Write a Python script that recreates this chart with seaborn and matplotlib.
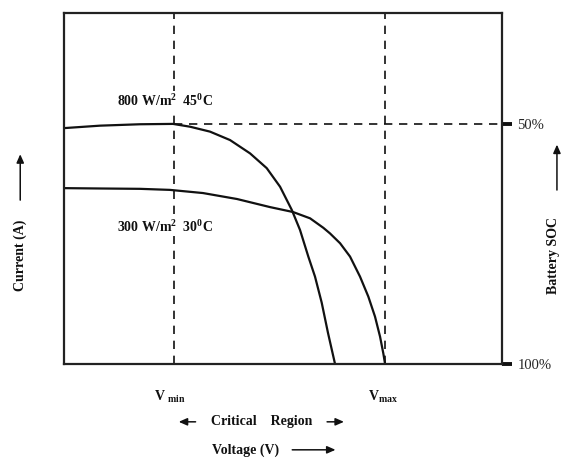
import numpy as np
import pandas as pd
import matplotlib
matplotlib.use("Agg")
import matplotlib.pyplot as plt
from matplotlib.patches import FancyArrowPatch
import seaborn as sns

# I-V curves (voltage in V, current in A, arbitrary scale)
v_800 = [0, 3.29, 6.94, 9.95, 11.51, 13.33, 15.16, 16.99, 18.51, 19.73, 20.80,
         21.55, 22.31, 22.92, 23.53, 24.11, 24.75]
i_800 = [6.72, 6.79, 6.83, 6.84, 6.76, 6.62, 6.38, 6.00, 5.58, 5.05, 4.39,
         3.82, 3.06, 2.49, 1.75, 0.88, 0.0]
v_300 = [0, 3.29, 6.94, 9.68, 12.69, 15.80, 18.81, 20.91, 22.47, 23.68, 24.29,
         25.21, 26.12, 27.03, 27.79, 28.40, 28.86, 29.16, 29.32]
i_300 = [5.01, 5.00, 4.99, 4.96, 4.87, 4.70, 4.47, 4.33, 4.15, 3.88, 3.72,
         3.44, 3.06, 2.49, 1.92, 1.35, 0.78, 0.30, 0.0]

v_min = 10.0
v_max = 29.3
soc_levels = [6.84, 0.0]
soc_labels = ["50%", "100%"]
curve_labels = ["800 W/m$^2$  45$^0$C", "300 W/m$^2$  30$^0$C"]

df = pd.concat([
    pd.DataFrame({"V": v_800, "I": i_800, "case": "800"}),
    pd.DataFrame({"V": v_300, "I": i_300, "case": "300"}),
])

sns.set_theme(style="white")
plt.rcParams["font.family"] = ["Liberation Serif", "DejaVu Sans"]
plt.rcParams["mathtext.fontset"] = "custom"
plt.rcParams["mathtext.rm"] = "Liberation Serif:bold"
plt.rcParams["mathtext.it"] = "Liberation Serif:bold"
plt.rcParams["mathtext.bf"] = "Liberation Serif:bold"

fig = plt.figure(figsize=(5.62, 4.59), dpi=100)
ax = fig.add_axes([0.1139, 0.207, 0.7794, 0.7647])

sns.lineplot(data=df, x="V", y="I", hue="case", units="case", estimator=None,
             sort=False, palette=["#111111", "#111111"], linewidth=1.6,
             legend=False, ax=ax)
for ln in ax.lines:
    ln.set_solid_joinstyle("round")

ax.set_xlim(0, 40)
ax.set_ylim(0, 10)

# dashed guide lines
ax.axvline(v_min, color="#111111", ls=(0, (5, 4)), lw=1.2, zorder=1)
ax.axvline(v_max, color="#111111", ls=(0, (5, 4)), lw=1.2, zorder=1)
ax.plot([v_min, 40], [soc_levels[0]] * 2, color="#111111", ls=(0, (5, 4)), lw=1.2, zorder=1)

for s in ax.spines.values():
    s.set_color("#222222")
    s.set_linewidth(1.6)

ax.set_xticks([])
ax.set_xlabel("")
ax.set_ylabel("")
ax.yaxis.tick_right()
ax.set_yticks(soc_levels)
ax.set_yticklabels(soc_labels, fontsize=10.5)
ax.tick_params(axis="y", right=True, length=7, width=2.8, color="#111111", pad=4)

# curve labels
bold = dict(fontsize=10, fontweight="bold", color="#111111")
ax.text(4.8, 7.5, curve_labels[0], va="center", ha="left",
        bbox=dict(fc="white", ec="none", pad=1), **bold)
ax.text(4.8, 3.9, curve_labels[1], va="center", ha="left",
        bbox=dict(fc="white", ec="none", pad=1), **bold)

# voltage markers under the axis
ax.text(v_min - 0.3, -0.95, "V $_{min}$", ha="center", va="center", **bold)
ax.text(v_max - 0.2, -0.95, "V$_{max}$", ha="center", va="center", **bold)

fig.text(0.465, 0.081, "Critical    Region", ha="center", va="center", **bold)
fig.text(0.437, 0.020, "Voltage (V)", ha="center", va="center", **bold)
fig.text(0.036, 0.444, "Current (A)", rotation=90, ha="center", va="center", **bold)
fig.text(0.985, 0.444, "Battery SOC", rotation=90, ha="center", va="center", **bold)

arrow = dict(arrowstyle="-|>,head_length=0.5,head_width=0.22", color="#111111",
             lw=1.1, mutation_scale=10, transform=fig.transFigure,
             shrinkA=0, shrinkB=0)
# critical region arrows
fig.add_artist(FancyArrowPatch((0.348, 0.081), (0.318, 0.081), **arrow))
fig.add_artist(FancyArrowPatch((0.582, 0.081), (0.612, 0.081), **arrow))
# voltage arrow
fig.add_artist(FancyArrowPatch((0.520, 0.020), (0.597, 0.020), **arrow))
# current arrow
fig.add_artist(FancyArrowPatch((0.036, 0.564), (0.036, 0.664), **arrow))
# SOC arrow
fig.add_artist(FancyArrowPatch((0.991, 0.586), (0.991, 0.685), **arrow))

fig.savefig("out.png", dpi=100, facecolor="white")
